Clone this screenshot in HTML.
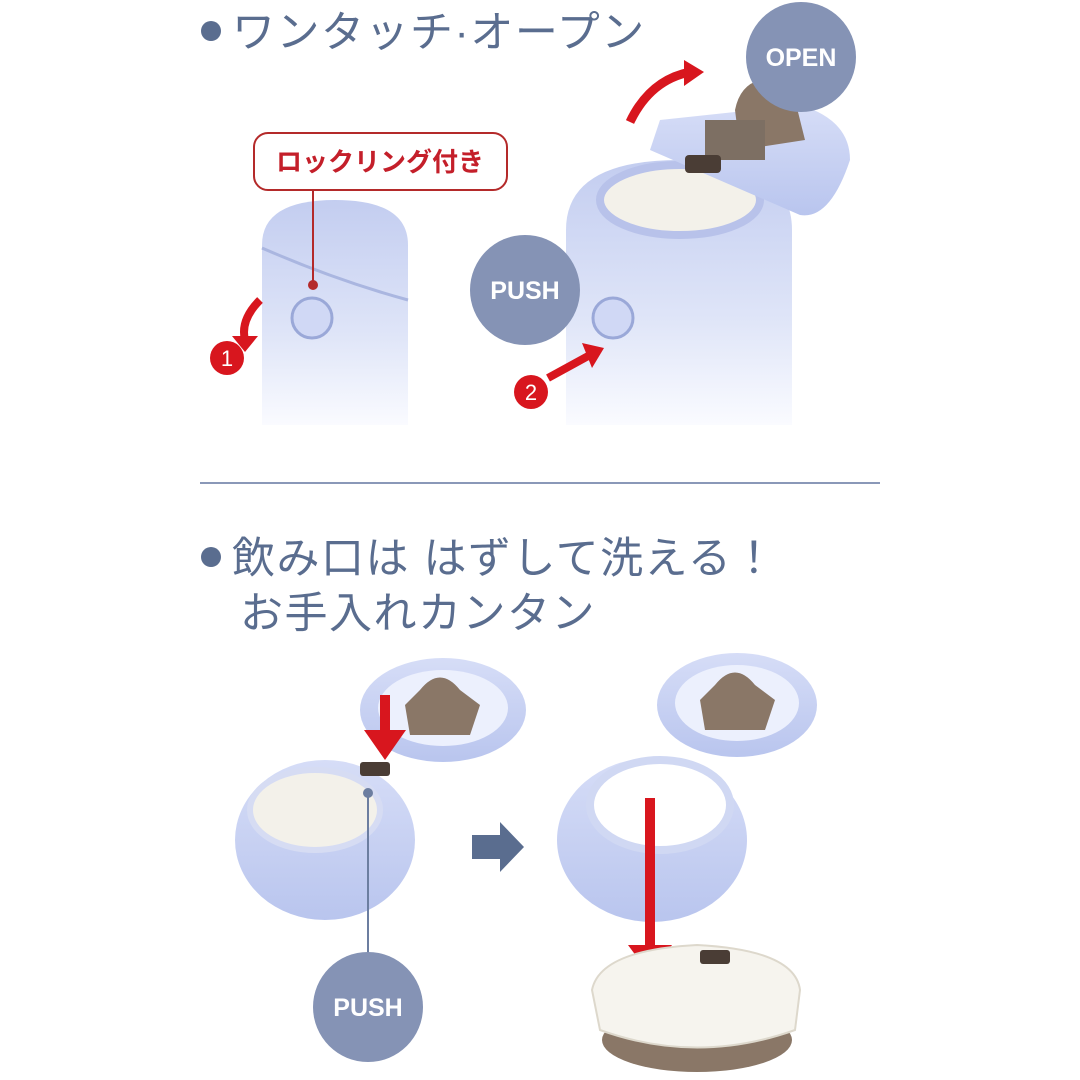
<!DOCTYPE html>
<html><head><meta charset="utf-8"><style>
html,body{margin:0;padding:0;background:#fff;width:1080px;height:1080px;overflow:hidden}
svg{display:block}
.t{font-family:"Liberation Sans","Noto Sans CJK JP",sans-serif;fill:#5a6d8f}
.w{font-family:"Liberation Sans",sans-serif;font-weight:bold;fill:#fff}
</style></head><body>
<svg width="1080" height="1080" viewBox="0 0 1080 1080" xmlns="http://www.w3.org/2000/svg">
<defs>
<linearGradient id="bt" x1="0" y1="0" x2="0" y2="1"><stop offset="0" stop-color="#c3cdf0"/><stop offset="0.6" stop-color="#dfe5f8"/><stop offset="1" stop-color="#fafbff"/></linearGradient>
<linearGradient id="lid" x1="0" y1="0" x2="0" y2="1"><stop offset="0" stop-color="#d6ddf7"/><stop offset="1" stop-color="#b9c5ee"/></linearGradient>
</defs>
<!-- Title 1 -->
<circle cx="211" cy="31" r="10" fill="#5a6d8f"/>
<text class="t" x="232" y="47" font-size="43" letter-spacing="1.5">ワンタッチ·オープン</text>
<!-- left bottle -->
<path d="M262 245 Q262 200 335 200 Q408 200 408 245 L408 425 L262 425 Z" fill="url(#bt)"/>
<path d="M262 248 Q335 280 408 300" stroke="#aab6e0" stroke-width="3" fill="none"/>
<circle cx="312" cy="318" r="20" fill="#d0d8f5" stroke="#9aa8d8" stroke-width="3"/>
<!-- lock ring label -->
<rect x="254" y="133" width="253" height="57" rx="14" fill="#fff" stroke="#b42a2a" stroke-width="2"/>
<text x="380" y="171" text-anchor="middle" font-family="Liberation Sans,Noto Sans CJK JP,sans-serif" font-weight="bold" font-size="26" fill="#c41f2a">ロックリング付き</text>
<line x1="313" y1="190" x2="313" y2="285" stroke="#b42a2a" stroke-width="2"/>
<circle cx="313" cy="285" r="5" fill="#b42a2a"/>
<path d="M260 300 Q240 320 245 340" stroke="#d8161e" stroke-width="8" fill="none"/>
<polygon points="232,336 258,336 245,352" fill="#d8161e"/>
<circle cx="227" cy="358" r="17" fill="#d8161e"/>
<text x="227" y="366" text-anchor="middle" font-family="Liberation Sans" font-size="22" fill="#fff">1</text>
<!-- right bottle -->
<path d="M566 230 Q566 160 680 160 Q792 160 792 230 L792 425 L566 425 Z" fill="url(#bt)"/>
<ellipse cx="680" cy="200" rx="80" ry="35" fill="#f3f1ea" stroke="#b8c2ea" stroke-width="8"/>
<path d="M660 120 L800 105 Q850 120 850 160 Q830 220 800 215 L650 150 Z" fill="url(#lid)"/>
<path d="M760 80 Q785 75 795 100 L805 140 L740 150 L735 110 Q740 85 760 80Z" fill="#8a7767"/>
<rect x="705" y="120" width="60" height="40" fill="#7d6f63"/>
<rect x="685" y="155" width="36" height="18" rx="4" fill="#4a3d35"/>
<circle cx="613" cy="318" r="20" fill="#d0d8f5" stroke="#9aa8d8" stroke-width="3"/>
<path d="M630 122 Q650 80 690 72" stroke="#d8161e" stroke-width="9" fill="none"/>
<polygon points="684,60 704,72 684,86" fill="#d8161e"/>
<line x1="548" y1="378" x2="590" y2="355" stroke="#d8161e" stroke-width="8"/>
<polygon points="582,343 604,348 592,368" fill="#d8161e"/>
<circle cx="531" cy="392" r="17" fill="#d8161e"/>
<text x="531" y="400" text-anchor="middle" font-family="Liberation Sans" font-size="22" fill="#fff">2</text>
<circle cx="801" cy="57" r="55" fill="#8593b5"/>
<text class="w" x="801" y="66" text-anchor="middle" font-size="25">OPEN</text>
<circle cx="525" cy="290" r="55" fill="#8593b5"/>
<text class="w" x="525" y="299" text-anchor="middle" font-size="25">PUSH</text>
<!-- divider -->
<line x1="200" y1="483" x2="880" y2="483" stroke="#8a98b8" stroke-width="2"/>
<!-- Title 2 -->
<circle cx="211" cy="557" r="10" fill="#5a6d8f"/>
<text class="t" x="232" y="573" font-size="43" letter-spacing="1.5">飲み口は はずして洗える！</text>
<text class="t" x="240" y="628" font-size="43" letter-spacing="1.5">お手入れカンタン</text>
<!-- bottom left -->
<ellipse cx="443" cy="710" rx="83" ry="52" fill="url(#lid)"/>
<ellipse cx="443" cy="708" rx="65" ry="38" fill="#ecf0fd"/>
<path d="M420 690 Q440 665 460 690 L480 705 L470 735 L410 735 L405 705 Z" fill="#8a7767"/>
<ellipse cx="325" cy="840" rx="90" ry="80" fill="url(#lid)"/>
<ellipse cx="315" cy="810" rx="65" ry="40" fill="#f3f1ea" stroke="#d6dcf3" stroke-width="6"/>
<rect x="360" y="762" width="30" height="14" rx="3" fill="#4a3d35"/>
<line x1="385" y1="695" x2="385" y2="735" stroke="#d8161e" stroke-width="10"/>
<polygon points="364,730 406,730 385,760" fill="#d8161e"/>
<line x1="368" y1="793" x2="368" y2="955" stroke="#6c7ea0" stroke-width="2"/>
<circle cx="368" cy="793" r="5" fill="#6c7ea0"/>
<circle cx="368" cy="1007" r="55" fill="#8593b5"/>
<text class="w" x="368" y="1016" text-anchor="middle" font-size="25">PUSH</text>
<polygon points="472,835 500,835 500,822 524,847 500,872 500,859 472,859" fill="#5a6d8f"/>
<!-- bottom right -->
<ellipse cx="737" cy="705" rx="80" ry="52" fill="url(#lid)"/>
<ellipse cx="737" cy="703" rx="62" ry="38" fill="#ecf0fd"/>
<path d="M715 685 Q735 660 755 685 L775 700 L765 730 L705 730 L700 700 Z" fill="#8a7767"/>
<ellipse cx="652" cy="840" rx="95" ry="82" fill="url(#lid)"/>
<ellipse cx="660" cy="805" rx="70" ry="45" fill="#fff" stroke="#d0d8f3" stroke-width="8"/>
<line x1="650" y1="798" x2="650" y2="950" stroke="#d8161e" stroke-width="10"/>
<polygon points="628,945 672,945 650,975" fill="#d8161e"/>
<ellipse cx="697" cy="1040" rx="95" ry="32" fill="#8a7767"/>
<path d="M592 990 Q600 950 697 945 Q795 950 800 990 L795 1030 Q697 1065 600 1030 Z" fill="#f6f4ee" stroke="#ddd8cc" stroke-width="2"/>
<rect x="700" y="950" width="30" height="14" rx="3" fill="#4a3d35"/>
</svg>
</body></html>
